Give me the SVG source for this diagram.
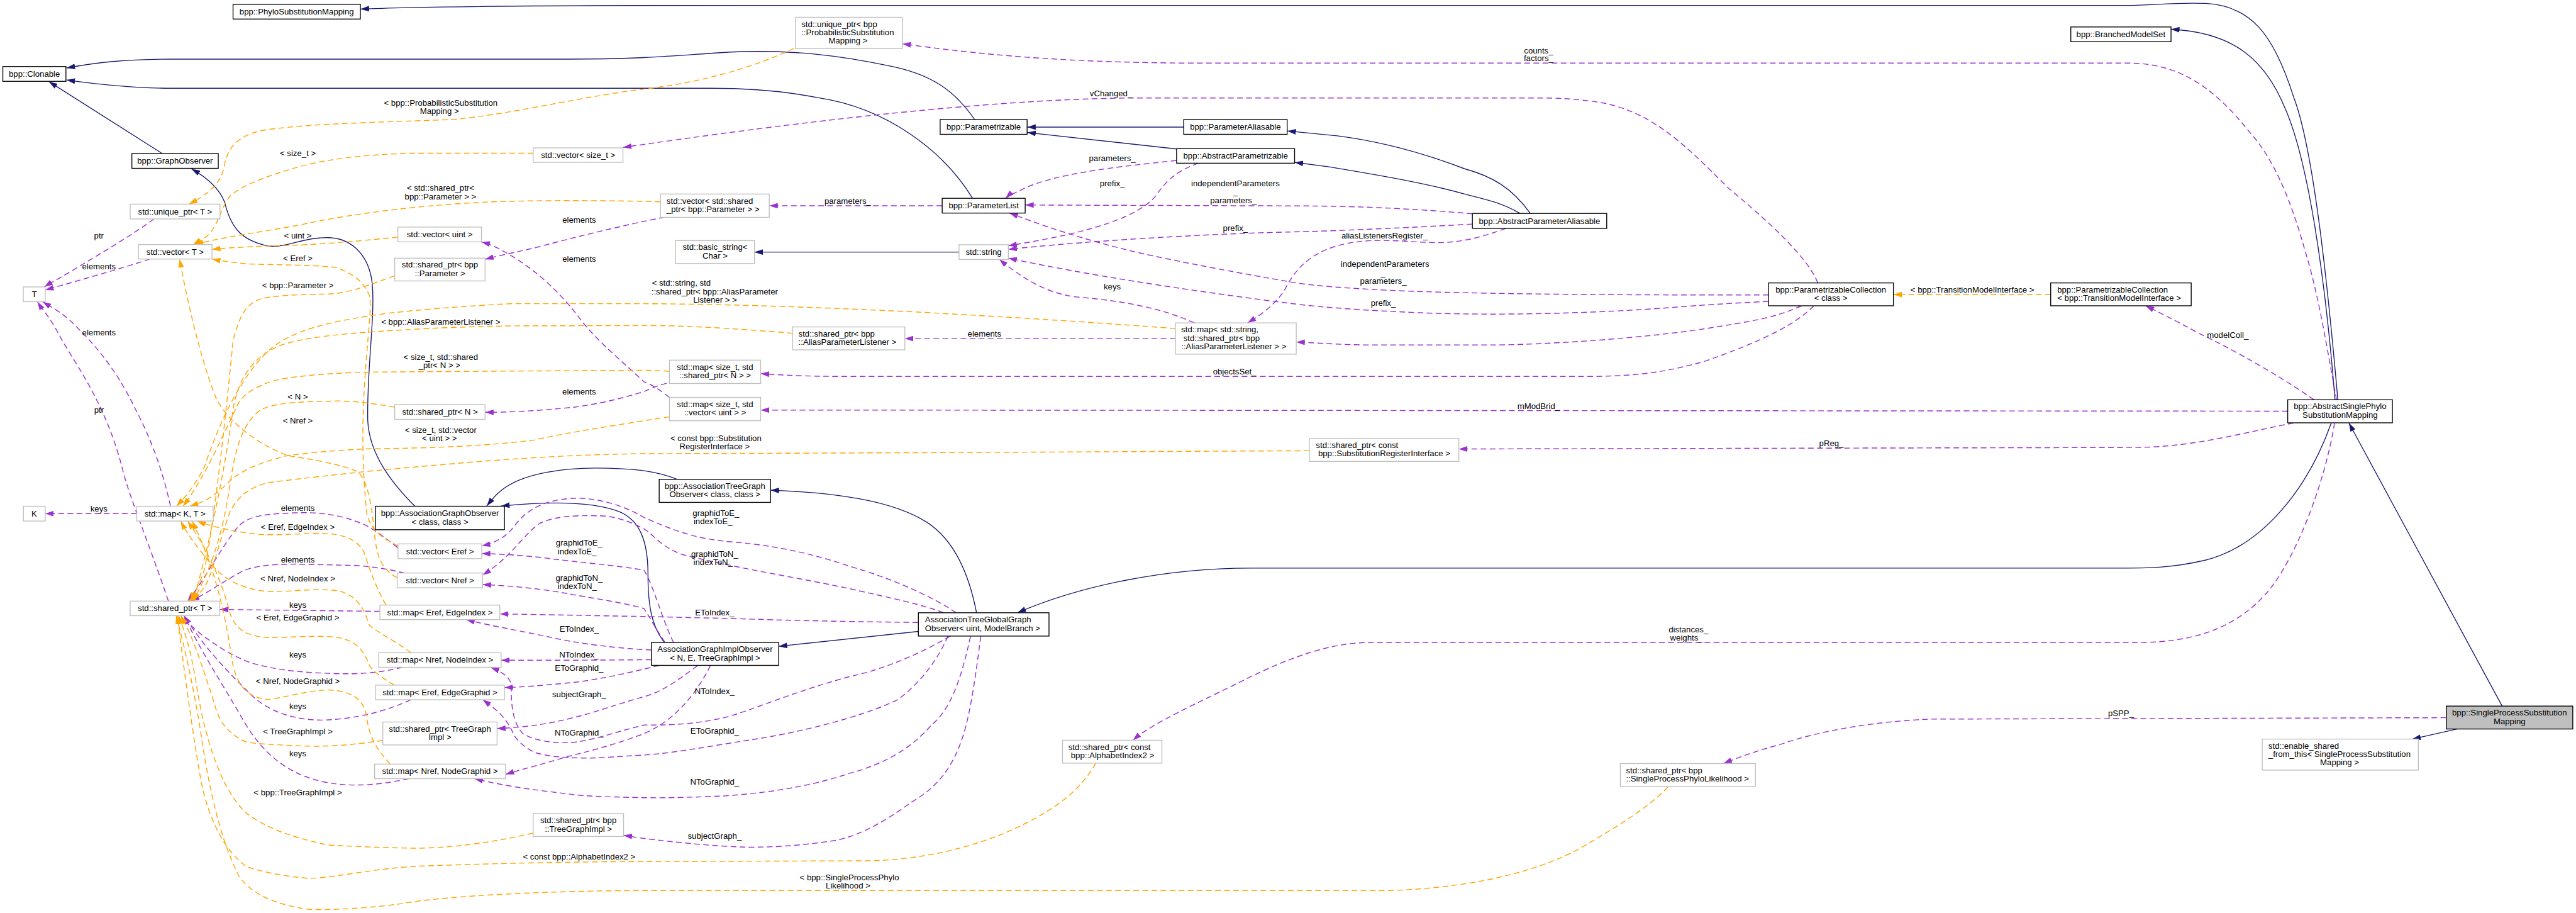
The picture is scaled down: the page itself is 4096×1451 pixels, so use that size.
<svg xmlns="http://www.w3.org/2000/svg" width="4096" height="1451" viewBox="0 0 4096 1451">
<style>
.doc rect{fill:#fff;stroke:#000;stroke-width:1.5}
.und rect{fill:#fff;stroke:#bfbfbf;stroke-width:1.5}
.foc rect{fill:#bfbfbf;stroke:#000;stroke-width:1.5}
text{font-family:"Liberation Sans",Arial,sans-serif;font-size:14.6px;fill:#000}
.c{text-anchor:middle}
.inh{fill:none;stroke:#191970;stroke-width:1.5;marker-end:url(#ab)}
.use{fill:none;stroke:#9a32cd;stroke-width:1.6;stroke-dasharray:10 6;marker-end:url(#ap)}
.tpl{fill:none;stroke:#ffa500;stroke-width:1.6;stroke-dasharray:10 6;marker-end:url(#ao)}
</style>
<defs>
<marker id="ab" viewBox="0 0 15 10" refX="15" refY="5" markerWidth="15" markerHeight="10" markerUnits="userSpaceOnUse" orient="auto"><path d="M0,0L15,5L0,10z" fill="#191970"/></marker>
<marker id="ap" viewBox="0 0 15 10" refX="15" refY="5" markerWidth="15" markerHeight="10" markerUnits="userSpaceOnUse" orient="auto"><path d="M0,0L15,5L0,10z" fill="#9a32cd"/></marker>
<marker id="ao" viewBox="0 0 15 10" refX="15" refY="5" markerWidth="15" markerHeight="10" markerUnits="userSpaceOnUse" orient="auto"><path d="M0,0L15,5L0,10z" fill="#ffa500"/></marker>
</defs>
<rect width="4096" height="1451" fill="#fff"/>
<g transform="scale(0.9038)">
<g id="edges">
<path class="inh" d="M4113,703 C4095,500 4070,260 4035,170 C4000,60 3960,10 3880,6 C3820,4 3790,9.5 3740,9.5 L1300,9.5 C900,9.5 700,13 634.4,16"/>
<path class="inh" d="M4108,703 C4090,480 4060,280 4020,190 C3985,105 3930,57 3819.5,51.5"/>
<path class="inh" d="M1714.7,210.2 C1680,160 1640,130 1560,115 C1480,98 1400,88 1300,91 C1220,94 1160,104 1000,104 L300,104 C220,104 170,110 117,119.5"/>
<path class="inh" d="M1711,348.7 C1660,265 1560,190 1440,172 C1380,160 1320,155.2 1250,155.2 L300,155.2 C230,155 170,148 117,140.6"/>
<path class="inh" d="M285.4,270 L86,143.5"/>
<path class="inh" d="M729.8,890.2 C690,850 650,800 647,740 C645,650 660,560 655,500 C650,450 620,420 580,418 C530,416 500,440 465,431 C420,420 405,395 395,355 C385,330 360,310 337,297"/>
<path class="inh" d="M1190.8,842.8 C1160,830 1120,823 1048,823 C980,823 930,835 903,849 C880,860 868,875 856.3,889.8"/>
<path class="inh" d="M1169,1129.7 C1145,1100 1140,1060 1140,1010 C1140,950 1125,915 1090,900 C1050,884 980,880 881.6,889.8"/>
<path class="inh" d="M1718,1077.5 C1705,1010 1680,950 1630,918 C1570,880 1470,866 1355.6,862"/>
<path class="inh" d="M1615.7,1110.3 L1370,1136.5"/>
<path class="inh" d="M4101.4,743.8 C4060,860 3980,960 3880,985 C3820,999 3780,999 3720,999 L2200,999 C2050,999 1900,1030 1790,1077.5"/>
<path class="inh" d="M4402,1241.6 L4132.5,743.8"/>
<path class="inh" d="M4322.5,1282 L4244,1299.6"/>
<path class="inh" d="M2692.3,375.3 C2660,330 2625,310 2576.7,296.8 C2520,275 2440,250 2352.7,238.8 L2265,230.3"/>
<path class="inh" d="M2674.3,375.3 C2640,355 2610,350 2576.7,341.2 C2520,325 2450,312 2338,293.4 L2277.6,285.5"/>
<path class="inh" d="M2082.5,223.5 L1807.2,223.5"/>
<path class="inh" d="M2070,262 L1807.2,233"/>
<path class="inh" d="M1687.2,443.3 L1327.4,443.3"/>

<path class="use" d="M4110.8,703 C4095,620 4080,520 4055,440 C4030,350 4000,280 3960,235 C3900,160 3840,111 3745,111 L2100,111 C1900,110 1750,100 1587.5,76.8"/>
<path class="use" d="M3198,497.5 C3180,450 3100,380 3040,330 C2960,250 2900,190 2800,178 C2760,173 2740,172.3 2700,172.3 L2000,172.3 C1800,173 1500,200 1096,259.3"/>
<path class="use" d="M2070,282.2 C1950,295 1860,305 1800,332 C1785,340 1775,343 1769,348.7"/>
<path class="use" d="M2590.4,376 C2500,368 2400,362 2266,362 L1803.6,360.5"/>
<path class="use" d="M3111.4,518.6 C2900,519 2650,518 2480,512 C2380,508 2300,502 2266,495 C2150,475 2050,455 2000,443.6 C1900,420 1830,395 1776,374.6"/>
<path class="use" d="M2590.4,394 C2450,402 2320,407 2266,408 C2100,412 1900,425 1774,438.4"/>
<path class="use" d="M2108.5,287 C2070,300 2050,320 2036,341 C2000,390 1880,415 1774,432"/>
<path class="use" d="M3111.4,530 C3050,533 3000,536 2950,540 C2800,552 2620,555 2500,550 C2400,546 2320,540 2266,533 C2100,512 1920,485 1774,454"/>
<path class="use" d="M2101.3,567.8 C2050,545 1990,530 1891.7,522 C1840,515 1800,490 1758,456.2"/>
<path class="use" d="M2649,401.6 C2600,420 2560,428 2519,426.5 C2470,425 2420,418 2370,428 C2310,440 2280,470 2260,510 C2240,540 2215,555 2195,567.8"/>
<path class="use" d="M3169.3,537.7 C3120,560 3080,565 3000,578 C2900,593 2750,605 2627,606.7 L2410,606.7 C2350,606 2300,602 2280.5,601.5"/>
<path class="use" d="M3191,537.7 C3160,570 3100,600 3000,635 C2930,655 2880,661 2800,662 L1500,662 C1420,662 1380,660 1338.2,657"/>
<path class="use" d="M2068,595.4 L1591.9,595.4"/>
<path class="use" d="M4024.8,723 L1338.2,721"/>
<path class="use" d="M4035,743.8 C3950,760 3860,786 3760,786.8 L2566.6,789.5"/>
<path class="use" d="M4071,703 C4010,660 3920,610 3868.7,586.2 C3830,565 3800,550 3774.8,537.7"/>
<path class="use" d="M4107.2,743.8 C4090,850 4040,980 3990,1040 C3930,1110 3850,1129.7 3760,1129.7 L2410,1129.7 C2330,1130 2250,1165 2180,1200 C2100,1240 2030,1270 1993,1301.7"/>
<path class="use" d="M4303.7,1262 L3399,1264.5 C3300,1268 3200,1285 3133,1308.8 C3090,1320 3050,1335 3032,1342.6"/>
<path class="use" d="M271,385 C230,415 170,450 120,480 C100,492 88,498 78,504.5"/>
<path class="use" d="M263.8,455.5 C220,470 150,490 79.5,510"/>
<path class="use" d="M299.9,890.2 C285,820 260,760 238.5,720 C200,640 160,600 130,570 C110,550 90,540 75,530.6"/>
<path class="use" d="M296.3,1057 C260,950 230,880 216.8,830 C190,720 140,650 110,600 C90,560 75,545 66,530.6"/>
<path class="use" d="M240.6,903.2 L79.5,903.2"/>
<path class="use" d="M700,963 C670,940 650,925 635.9,920.6 C600,905 560,900 520,901.8 C470,904 440,905 420,925 C390,960 360,1020 330,1057"/>
<path class="use" d="M711.8,1007.6 C680,1000 640,994 614,994 L520,992 C480,992 440,995 420,1008 C390,1025 360,1045 336,1057"/>
<path class="use" d="M668.4,1075 L386.6,1071.7"/>
<path class="use" d="M708,1173.4 C660,1185 620,1186 578,1184 C520,1182 480,1177 440,1165 C400,1150 375,1130 360,1120 C340,1105 330,1095 324,1082.6"/>
<path class="use" d="M722.6,1230.4 C680,1250 640,1260 590,1265 C540,1270 480,1260 440,1220 C400,1180 360,1140 324,1082.6"/>
<path class="use" d="M719,1369.2 C670,1380 620,1385 570,1375 C500,1360 460,1320 430,1270 C390,1200 350,1140 324,1082.6"/>
<path class="use" d="M1169,382 C1100,395 1000,420 940,436 C900,445 875,450 853.4,456"/>
<path class="use" d="M1177.8,698.8 C1160,685 1145,675 1133,671.5 C1100,640 1050,600 1020,560 C990,520 950,480 900,450 C880,438 865,430 847,425.5"/>
<path class="use" d="M1172.7,674 C1150,680 1140,686 1133,688.5 C1080,705 1040,712 1011.7,715.8 C950,722 900,725 853.4,725"/>
<path class="use" d="M1657.6,361.7 L1353.4,361.7"/>
<path class="use" d="M1146,1143 C1080,1140 1010,1130 975,1122 C920,1110 860,1100 820.2,1089.5"/>
<path class="use" d="M1146,1160 C1050,1161 950,1161 881.6,1161"/>
<path class="use" d="M1160,1170 C1100,1185 1050,1195 1011.7,1199.7 C960,1205 920,1208 887.4,1209"/>
<path class="use" d="M1227,1170.7 C1200,1190 1170,1215 1133,1225 C1080,1240 1040,1255 1011.7,1261 C960,1275 910,1280 874.4,1281"/>
<path class="use" d="M1250,1170 C1220,1230 1180,1270 1133,1290 C1080,1310 1040,1320 1000,1330 C950,1345 910,1355 889.5,1361.7"/>
<path class="use" d="M1185,1129.7 C1165,1090 1150,1030 1133,1002.5 C1090,995 1010,988 950,980 C910,976 880,974 847.6,973.5"/>
<path class="use" d="M1170,1129.7 C1150,1100 1140,1080 1133,1070 C1090,1058 1030,1050 1000,1044 C950,1035 900,1030 849,1028"/>
<path class="use" d="M1615.7,1094.6 C1500,1093 1420,1092 1300,1088 L1133,1084 C1000,1082 930,1080 879.4,1079.6"/>
<path class="use" d="M1682,1077.5 C1650,1055 1580,1020 1494,995.6 C1420,970 1350,958 1290,953 C1220,948 1180,930 1133,910 C1100,890 1060,878 1020,876 C970,876 930,890 905,925 C890,945 870,955 847.6,959.8"/>
<path class="use" d="M1660,1077.5 C1620,1062 1560,1050 1494,1035 C1400,1015 1300,1000 1200,975 C1160,960 1150,940 1133,930 C1100,912 1070,906 1047.8,907 C1010,906 975,908 950,920 C920,940 900,980 849,1011"/>
<path class="use" d="M1672,1118.5 C1600,1160 1540,1180 1494,1190 C1400,1215 1320,1250 1277.5,1261 C1220,1275 1170,1275 1133,1275 C1090,1285 1050,1300 1011.7,1305 C970,1308 940,1302 920,1290 C900,1270 899,1230 899.6,1206 C899,1190 880,1180 863.5,1174"/>
<path class="use" d="M1667.7,1118.5 C1650,1160 1620,1200 1580,1230 C1520,1260 1400,1290 1313.7,1302 C1250,1312 1180,1325 1133,1327.6 C1090,1330 1070,1332 1048.8,1332.7 C1000,1334 960,1330 939.4,1322.5 C915,1310 905,1295 903,1290 C890,1260 870,1245 849,1230.4"/>
<path class="use" d="M1707.5,1118.5 C1690,1200 1670,1250 1638.8,1274.7 C1600,1320 1550,1345 1494,1360 C1420,1385 1340,1395 1277.5,1399.3 C1200,1403 1160,1403 1133,1402.7 C1060,1401 1030,1400 1011.7,1397.5 C950,1390 900,1385 834.6,1369.2"/>
<path class="use" d="M1725.5,1118.5 C1715,1200 1705,1270 1689,1308.8 C1670,1360 1640,1390 1602.7,1411 C1550,1450 1500,1475 1458,1479.5 C1400,1488 1350,1490 1313.7,1489.7 C1250,1488 1180,1480 1133,1474.3 C1115,1472 1105,1470 1097,1469"/>

<path class="tpl" d="M1396.7,85.3 C1300,130 1200,150 1120,158 C1000,175 900,200 800,210 C680,215 560,216 470,228 C420,235 400,260 395,290 C390,320 370,340 332.4,359"/>
<path class="tpl" d="M938,269.5 L722.6,269.5 C640,272 570,280 520,295 C460,312 420,330 404.7,345 C385,370 385,400 360,418 L339.6,430"/>
<path class="tpl" d="M1162,354.8 C1050,352 950,352 860,355 C750,360 620,375 530,395 C450,410 400,415 343,430"/>
<path class="tpl" d="M700,417 C620,425 560,430 505.8,431.6 C450,433 410,435 372.9,438.4"/>
<path class="tpl" d="M700.2,960 C670,945 650,930 645,900 C640,850 636,780 640,700 C645,600 655,540 650,520 C640,495 620,480 590,470 C540,465 480,466 433.6,464 C400,460 385,458 372.9,455.5"/>
<path class="tpl" d="M698.8,1016 C670,1000 665,980 660,950 C655,900 650,850 630,830 C600,815 530,805 505.8,801 C450,780 400,740 380,700 C360,650 335,560 316,455.5"/>
<path class="tpl" d="M694.4,485 C650,500 620,515 578,517 C520,518 480,520 460,525 C430,535 420,560 410,600 C400,700 380,900 360,1000 C350,1030 340,1045 335,1057"/>
<path class="tpl" d="M1394.6,586 C1300,578 1200,572 1133,572.5 L900,573 C800,575 740,578 722.6,579.4 C620,585 560,590 505.8,603.2 C450,620 420,660 410,720 C395,830 370,950 340,1057"/>
<path class="tpl" d="M2068,577.7 C1900,565 1750,556 1600,548 C1450,541 1300,535 1133,534 L900,534 C780,540 680,550 650,555.5 C580,566 520,580 480,610 C420,660 380,760 360,820 C340,860 320,880 310.7,890.2"/>
<path class="tpl" d="M1177.8,652.7 L1133,651 C1000,652 800,653 650.3,654.4 C580,656 540,660 505.8,664.6 C460,672 430,690 419,710 C390,770 360,840 322,890.2"/>
<path class="tpl" d="M694.4,716 C640,706 600,704 578,705.6 C520,706 480,710 460,720 C430,740 415,780 405,850 C390,950 370,1000 340,1057"/>
<path class="tpl" d="M1177.8,732.9 C1100,745 1000,760 939.4,773.8 C850,785 750,788 650.3,789.2 C580,792 530,798 505.8,801 C450,815 420,830 400,850 C370,880 350,885 334,890.2"/>
<path class="tpl" d="M2303.6,792.6 C2000,794 1500,797 1133,797.7 C950,800 800,815 650.3,828.4 C560,838 500,845 469.7,849 C430,860 415,880 404.7,900 C390,940 380,980 370,1010 C360,1040 345,1050 330,1057"/>
<path class="tpl" d="M679,1064 C660,1030 650,1000 640,970 C625,945 600,938 556.4,937.6 C500,940 470,942 440,938 C400,932 370,925 346.8,916.5"/>
<path class="tpl" d="M722.6,1147.8 C700,1130 670,1115 650,1100 C640,1070 630,1050 600,1040 C560,1032 510,1042 469.7,1040 C420,1035 390,1015 370,990 C345,960 330,940 318,916.5"/>
<path class="tpl" d="M693.7,1204.8 C670,1190 655,1180 650,1170 C640,1145 630,1130 600,1122 C560,1115 510,1122 469.7,1121 C430,1118 415,1105 405,1080 C395,1040 375,980 330,916.5"/>
<path class="tpl" d="M686.5,1343.6 C665,1320 650,1300 645,1260 C640,1230 620,1215 578,1213.3 C530,1215 500,1228 469.7,1230 C430,1225 415,1200 408,1160 C398,1090 380,1000 338,916.5"/>
<path class="tpl" d="M673.5,1302 C620,1310 580,1313 542,1312 C490,1310 450,1308 433.6,1305 C400,1290 385,1270 375,1230 C355,1170 340,1120 318,1082.6"/>
<path class="tpl" d="M938,1465 C850,1485 780,1492 722.6,1491.4 C650,1490 600,1487 578,1486 C500,1470 460,1450 433.6,1430 C390,1390 360,1300 345,1200 C335,1140 325,1110 314,1082.6"/>
<path class="tpl" d="M1928,1342 C1900,1390 1860,1420 1800,1450 C1720,1490 1620,1512 1530,1513.6 L1133,1515 C1000,1515 800,1520 722.6,1523.8 C640,1530 580,1545 542,1544.3 C490,1540 450,1530 433.6,1523.8 C400,1500 370,1450 355,1380 C340,1300 320,1150 312,1082.6"/>
<path class="tpl" d="M2934.4,1383.9 C2900,1420 2850,1450 2800,1480 C2720,1530 2600,1560 2450,1565.8 L1133,1565.8 C900,1567 750,1580 700,1590 C620,1600 560,1600 542,1598.9 C480,1590 440,1570 420,1540 C390,1480 370,1400 355,1300 C340,1200 320,1120 310,1082.6"/>
<path class="tpl" d="M3607.8,518 L3331.1,518"/>
</g>

<g id="edge-labels" class="lbl">
<text class="c" x="775.4" y="185.8">&lt; bpp::ProbabilisticSubstitution</text>
<text class="c" x="773" y="200.2">Mapping &gt;</text>
<text class="c" x="524" y="274.5">&lt; size_t &gt;</text>
<text class="c" x="775" y="335.6">&lt; std::shared_ptr&lt;</text>
<text class="c" x="775" y="350.6">bpp::Parameter &gt; &gt;</text>
<text class="c" x="1019" y="391.6">elements</text>
<text class="c" x="174" y="418.9">ptr</text>
<text class="c" x="524" y="419.5">&lt; uint &gt;</text>
<text class="c" x="1019" y="459.8">elements</text>
<text class="c" x="174" y="473.5">elements</text>
<text class="c" x="524" y="458.8">&lt; Eref &gt;</text>
<text class="c" x="524" y="506.6">&lt; bpp::Parameter &gt;</text>
<text class="c" x="1954.6" y="169.8">vChanged_</text>
<text class="c" x="1956.8" y="283.1">parameters_</text>
<text class="c" x="1956.8" y="327.4">prefix_</text>
<text class="c" x="2173.5" y="327.4">independentParameters</text>
<text class="c" x="2173.5" y="342.4">_</text>
<text class="c" x="2170" y="357.4">parameters_</text>
<text class="c" x="1491.4" y="358.8">parameters_</text>
<text class="c" x="2173.5" y="406.6">prefix_</text>
<text class="c" x="1956.8" y="509.3">keys</text>
<text x="1147" y="502.5">&lt; std::string, std</text>
<text x="1146" y="517.5">::shared_ptr&lt; bpp::AliasParameter</text>
<text class="c" x="1258" y="532.5">Listener &gt; &gt;</text>
<text class="c" x="2706.8" y="93.7">counts_</text>
<text class="c" x="2706.8" y="107.4">factors_</text>
<text class="c" x="2435.8" y="418.9">aliasListenersRegister_</text>
<text class="c" x="2436.5" y="469.7">independentParameters</text>
<text class="c" x="2433" y="484.2">_</text>
<text class="c" x="2433.6" y="498.7">parameters_</text>
<text class="c" x="2433.6" y="537.3">prefix_</text>
<text class="c" x="3470" y="514.4">&lt; bpp::TransitionModelInterface &gt;</text>
<text class="c" x="3919.3" y="593.9">modelColl_</text>
<text class="c" x="3731.4" y="1259.2">pSPP_</text>
<text class="c" x="2970.5" y="1111.5">distances_</text>
<text class="c" x="2967" y="1126.9">weights_</text>
<text class="c" x="1257.3" y="1082.5">EToIndex_</text>
<text class="c" x="1257.3" y="1220">NToIndex_</text>
<text class="c" x="1257.3" y="1290">EToGraphid_</text>
<text class="c" x="1257.3" y="1379.7">NToGraphid_</text>
<text class="c" x="1257.3" y="1475">subjectGraph_</text>
<text class="c" x="1494.3" y="1547.6">&lt; bpp::SingleProcessPhylo</text>
<text class="c" x="1492" y="1562.2">Likelihood &gt;</text>
<text class="c" x="523.9" y="1091.4">&lt; Eref, EdgeGraphid &gt;</text>
<text class="c" x="523.9" y="1155.9">keys</text>
<text class="c" x="523.9" y="1202.3">&lt; Nref, NodeGraphid &gt;</text>
<text class="c" x="523.9" y="1246.6">keys</text>
<text class="c" x="523.9" y="1291.3">&lt; TreeGraphImpl &gt;</text>
<text class="c" x="523.9" y="1329.5">keys</text>
<text class="c" x="523.9" y="1398.5">&lt; bpp::TreeGraphImpl &gt;</text>
<text class="c" x="1018.9" y="1511.7">&lt; const bpp::AlphabetIndex2 &gt;</text>
<text class="c" x="1018.9" y="1110.5">EToIndex_</text>
<text class="c" x="1018.9" y="1155.9">NToIndex_</text>
<text class="c" x="1018.9" y="1179.7">EToGraphid_</text>
<text class="c" x="1018.9" y="1225.5">subjectGraph_</text>
<text class="c" x="1018.9" y="1293.4">NToGraphid_</text>
<text class="c" x="174.1" y="589.5">elements</text>
<text class="c" x="775.4" y="570.7">&lt; bpp::AliasParameterListener &gt;</text>
<text class="c" x="174.1" y="726">ptr</text>
<text class="c" x="775.4" y="633.1">&lt; size_t, std::shared</text>
<text class="c" x="773.2" y="647.5">_ptr&lt; N &gt; &gt;</text>
<text class="c" x="523.9" y="702.4">&lt; N &gt;</text>
<text class="c" x="1018.9" y="693.5">elements</text>
<text class="c" x="523.9" y="745.1">&lt; Nref &gt;</text>
<text class="c" x="775.4" y="761.8">&lt; size_t, std::vector</text>
<text class="c" x="773.2" y="775.4">&lt; uint &gt; &gt;</text>
<text class="c" x="174.1" y="899.3">keys</text>
<text class="c" x="523.9" y="898.3">elements</text>
<text class="c" x="523.9" y="931.4">&lt; Eref, EdgeIndex &gt;</text>
<text class="c" x="1018.9" y="959.7">graphidToE_</text>
<text class="c" x="1015.3" y="974.3">indexToE_</text>
<text class="c" x="523.9" y="989.4">elements</text>
<text class="c" x="523.9" y="1022.1">&lt; Nref, NodeIndex &gt;</text>
<text class="c" x="1018.9" y="1021.1">graphidToN_</text>
<text class="c" x="1015.3" y="1035.4">indexToN_</text>
<text class="c" x="523.9" y="1068.9">keys</text>
<text class="c" x="1732" y="591.9">elements</text>
<text class="c" x="2172.1" y="658.7">objectsSet_</text>
<text class="c" x="1259.5" y="775.4">&lt; const bpp::Substitution</text>
<text class="c" x="1257.3" y="790.4">RegisterInterface &gt;</text>
<text class="c" x="1259.5" y="906.8">graphidToE_</text>
<text class="c" x="1254.4" y="921.5">indexToE_</text>
<text class="c" x="1257.3" y="979.1">graphidToN_</text>
<text class="c" x="1254.4" y="993.8">indexToN_</text>
<text class="c" x="2706.8" y="719.1">mModBrid_</text>
<text class="c" x="3222" y="784.3">pReg_</text>
</g>

<g id="n_psm" class="doc"><rect x="410" y="7.5" width="224" height="26"/><text class="c" x="522" y="25.5">bpp::PhyloSubstitutionMapping</text></g>
<g id="n_clonable" class="doc"><rect x="5" y="117" width="111" height="26"/><text class="c" x="60.5" y="135">bpp::Clonable</text></g>
<g id="n_graphobserver" class="doc"><rect x="232" y="270" width="152" height="26"/><text class="c" x="308" y="288">bpp::GraphObserver</text></g>
<g id="n_uniqueT" class="und"><rect x="229" y="359" width="158" height="26"/><text class="c" x="308" y="377">std::unique_ptr&lt; T &gt;</text></g>
<g id="n_vectorT" class="und"><rect x="243.5" y="430" width="129.5" height="25.5"/><text class="c" x="308" y="448">std::vector&lt; T &gt;</text></g>
<g id="n_T" class="und"><rect x="41" y="504.5" width="38.5" height="26"/><text class="c" x="60.3" y="522.5">T</text></g>
<g id="n_vecsize" class="und"><rect x="938" y="260" width="158" height="25.5"/><text class="c" x="1017" y="277.7">std::vector&lt; size_t &gt;</text></g>
<g id="n_vecuint" class="und"><rect x="700" y="399.3" width="147" height="26"/><text class="c" x="773.5" y="417.3">std::vector&lt; uint &gt;</text></g>
<g id="n_spParam" class="und"><rect x="694.4" y="454" width="159" height="40"/><text class="c" x="774" y="470.5">std::shared_ptr&lt; bpp</text><text class="c" x="774" y="485.3">::Parameter &gt;</text></g>
<g id="n_upPSM" class="und"><rect x="1399.6" y="30.4" width="188" height="55"/><text x="1409.8" y="47.5">std::unique_ptr&lt; bpp</text><text x="1409.8" y="61.5">::ProbabilisticSubstitution</text><text class="c" x="1492" y="76.5">Mapping &gt;</text></g>
<g id="n_parametrizable" class="doc"><rect x="1654" y="210.2" width="153" height="26"/><text class="c" x="1730.5" y="228.2">bpp::Parametrizable</text></g>
<g id="n_paramAliasable" class="doc"><rect x="2082.5" y="210.2" width="182" height="26"/><text class="c" x="2173.5" y="228.2">bpp::ParameterAliasable</text></g>
<g id="n_absParametrizable" class="doc"><rect x="2070" y="261.4" width="207.6" height="25.6"/><text class="c" x="2173.8" y="279.2">bpp::AbstractParametrizable</text></g>
<g id="n_vecspParam" class="und"><rect x="1162" y="341.2" width="191.4" height="41"/><text x="1172.7" y="358.6">std::vector&lt; std::shared</text><text x="1172.7" y="373.4">_ptr&lt; bpp::Parameter &gt; &gt;</text></g>
<g id="n_paramList" class="doc"><rect x="1657.6" y="348.7" width="146" height="26"/><text class="c" x="1730.6" y="366.7">bpp::ParameterList</text></g>
<g id="n_basicString" class="und"><rect x="1188.6" y="423" width="138.8" height="40.3"/><text class="c" x="1258" y="439.8">std::basic_string&lt;</text><text class="c" x="1258" y="454.6">Char &gt;</text></g>
<g id="n_string" class="und"><rect x="1687.2" y="430.3" width="86.8" height="26"/><text class="c" x="1730.6" y="448.3">std::string</text></g>
<g id="n_absParamAliasable" class="doc"><rect x="2590.4" y="375.3" width="236.3" height="26.3"/><text class="c" x="2708.5" y="393.5">bpp::AbstractParameterAliasable</text></g>
<g id="n_pcClass" class="doc"><rect x="3111.4" y="497.5" width="219.7" height="40.2"/><text class="c" x="3221" y="514.3">bpp::ParametrizableCollection</text><text class="c" x="3221" y="528.7">&lt; class &gt;</text></g>
<g id="n_branchedModelSet" class="doc"><rect x="3643.2" y="47.4" width="176.3" height="26"/><text class="c" x="3731.3" y="65.4">bpp::BranchedModelSet</text></g>
<g id="n_pcTMI" class="doc"><rect x="3607.8" y="497.5" width="247.2" height="40.2"/><text x="3619.4" y="514.3">bpp::ParametrizableCollection</text><text x="3619.4" y="528.7">&lt; bpp::TransitionModelInterface &gt;</text></g>
<g id="n_absSinglePhylo" class="doc"><rect x="4024.8" y="703" width="184.2" height="40.5"/><text class="c" x="4116.9" y="719.7">bpp::AbstractSinglePhylo</text><text class="c" x="4116.9" y="734.7">SubstitutionMapping</text></g>
<g id="n_spsm" class="foc"><rect x="4303.7" y="1241.6" width="222.6" height="40.3"/><text class="c" x="4415" y="1258.5">bpp::SingleProcessSubstitution</text><text class="c" x="4415" y="1273.5">Mapping</text></g>
<g id="n_enableShared" class="und"><rect x="3980" y="1299.6" width="274.6" height="54.6"/><text x="3990.8" y="1316.5">std::enable_shared</text><text x="3990.8" y="1331.5">_from_this&lt; SingleProcessSubstitution</text><text class="c" x="4116" y="1345.8">Mapping &gt;</text></g>
<g id="n_spSPPL" class="und"><rect x="2850.6" y="1342.6" width="237.7" height="40.6"/><text x="2860.7" y="1359.5">std::shared_ptr&lt; bpp</text><text x="2860.7" y="1374.5">::SingleProcessPhyloLikelihood &gt;</text></g>
<g id="n_atggo" class="doc"><rect x="1615.7" y="1077.5" width="229.8" height="41"/><text x="1627.3" y="1094.3">AssociationTreeGlobalGraph</text><text x="1627.3" y="1109.4">Observer&lt; uint, ModelBranch &gt;</text></g>
<g id="n_agio" class="doc"><rect x="1146" y="1129.7" width="224" height="40.3"/><text class="c" x="1258" y="1146.6">AssociationGraphImplObserver</text><text class="c" x="1258" y="1161.6">&lt; N, E, TreeGraphImpl &gt;</text></g>
<g id="n_spAlpha" class="und"><rect x="1869.3" y="1301.7" width="174.9" height="40.3"/><text x="1879.5" y="1318.5">std::shared_ptr&lt; const</text><text x="1884" y="1333.5">bpp::AlphabetIndex2 &gt;</text></g>
<g id="n_spT" class="und"><rect x="229" y="1057" width="157.6" height="25.6"/><text class="c" x="307.8" y="1074.8">std::shared_ptr&lt; T &gt;</text></g>
<g id="n_mapErefEI" class="und"><rect x="668.4" y="1064" width="211" height="25.5"/><text class="c" x="774" y="1081.7">std::map&lt; Eref, EdgeIndex &gt;</text></g>
<g id="n_mapNrefNI" class="und"><rect x="666.2" y="1147.8" width="215.4" height="25.6"/><text class="c" x="774" y="1165.6">std::map&lt; Nref, NodeIndex &gt;</text></g>
<g id="n_mapErefEG" class="und"><rect x="660.5" y="1204.8" width="227" height="25.6"/><text class="c" x="774" y="1222.6">std::map&lt; Eref, EdgeGraphid &gt;</text></g>
<g id="n_spTGI" class="und"><rect x="673.5" y="1269.6" width="201" height="40.3"/><text class="c" x="774" y="1286.8">std::shared_ptr&lt; TreeGraph</text><text class="c" x="774" y="1301.5">Impl &gt;</text></g>
<g id="n_mapNrefNG" class="und"><rect x="659" y="1343.6" width="230.5" height="25.6"/><text class="c" x="774" y="1361.4">std::map&lt; Nref, NodeGraphid &gt;</text></g>
<g id="n_spBppTGI" class="und"><rect x="938" y="1430.6" width="159" height="40.3"/><text class="c" x="1017.5" y="1447.5">std::shared_ptr&lt; bpp</text><text class="c" x="1017.5" y="1462.5">::TreeGraphImpl &gt;</text></g>
<g id="n_K" class="und"><rect x="41.2" y="890.2" width="38.3" height="26"/><text class="c" x="60.3" y="908.2">K</text></g>
<g id="n_mapKT" class="und"><rect x="240.6" y="890.2" width="134.4" height="26"/><text class="c" x="307.8" y="908.2">std::map&lt; K, T &gt;</text></g>
<g id="n_spN" class="und"><rect x="694.4" y="711.4" width="159" height="26"/><text class="c" x="774" y="729.4">std::shared_ptr&lt; N &gt;</text></g>
<g id="n_ago" class="doc"><rect x="660.5" y="890.2" width="227" height="41.3"/><text class="c" x="774" y="907.7">bpp::AssociationGraphObserver</text><text class="c" x="774" y="922.4">&lt; class, class &gt;</text></g>
<g id="n_vecEref" class="und"><rect x="700.2" y="956.4" width="147.4" height="26"/><text class="c" x="774" y="974.4">std::vector&lt; Eref &gt;</text></g>
<g id="n_vecNref" class="und"><rect x="698.8" y="1007.6" width="150.2" height="26"/><text class="c" x="774" y="1025.6">std::vector&lt; Nref &gt;</text></g>
<g id="n_spAPL" class="und"><rect x="1394.6" y="574.9" width="197.3" height="40.3"/><text x="1404.7" y="591.8">std::shared_ptr&lt; bpp</text><text x="1404.7" y="606.4">::AliasParameterListener &gt;</text></g>
<g id="n_mapStrAPL" class="und"><rect x="2068" y="567.8" width="212.5" height="55"/><text x="2078.2" y="584.6">std::map&lt; std::string,</text><text x="2082" y="599.6">std::shared_ptr&lt; bpp</text><text x="2078.2" y="613.6">::AliasParameterListener &gt; &gt;</text></g>
<g id="n_mapSizeSpN" class="und"><rect x="1177.8" y="633.3" width="160.4" height="41"/><text class="c" x="1258" y="650.4">std::map&lt; size_t, std</text><text class="c" x="1258" y="665.5">::shared_ptr&lt; N &gt; &gt;</text></g>
<g id="n_mapSizeVecUint" class="und"><rect x="1177.8" y="698.8" width="160.4" height="41"/><text class="c" x="1258" y="715.9">std::map&lt; size_t, std</text><text class="c" x="1258" y="730.6">::vector&lt; uint &gt; &gt;</text></g>
<g id="n_atgo" class="doc"><rect x="1159.7" y="842.8" width="195.9" height="40.6"/><text class="c" x="1257.7" y="859.6">bpp::AssociationTreeGraph</text><text class="c" x="1257.7" y="874.6">Observer&lt; class, class &gt;</text></g>
<g id="n_spSRI" class="und"><rect x="2303.6" y="771.1" width="263" height="40.3"/><text x="2315.1" y="787.9">std::shared_ptr&lt; const</text><text x="2319" y="802.6">bpp::SubstitutionRegisterInterface &gt;</text></g>
</g>
</svg>
